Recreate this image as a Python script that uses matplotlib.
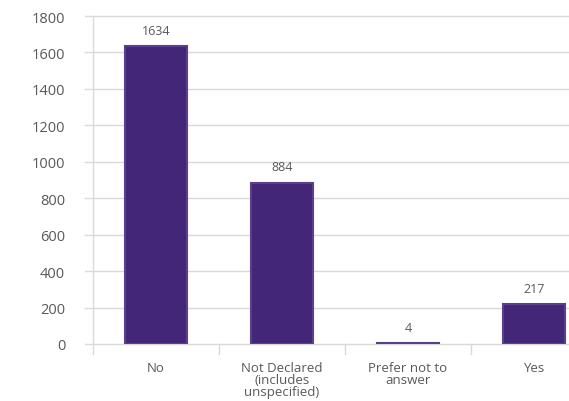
import matplotlib
matplotlib.use("Agg")
import matplotlib.pyplot as plt

categories = ["No", "Not Declared\n(includes\nunspecified)", "Prefer not to\nanswer", "Yes"]
values = [1634, 884, 4, 217]
y_ticks = [0, 200, 400, 600, 800, 1000, 1200, 1400, 1600, 1800]

plt.rcParams["font.family"] = ["Open Sans", "DejaVu Sans"]
text_color = "#595959"
grid_color = "#d9d9d9"
bar_color = "#432678"

W, H = 569, 402
fig = plt.figure(figsize=(W / 100, H / 100), dpi=100)
left, right, bottom, top = 93, 569, 345, 17
ax = fig.add_axes([left / W, 1 - bottom / H, (right - left) / W, (bottom - top) / H])

x = list(range(len(categories)))
ax.bar(x, values, width=0.49, color=bar_color, edgecolor="#5a3f8e", linewidth=1.5, zorder=3)

ax.set_xlim(-0.5, -0.5 + (right - left) / 126)
ax.set_ylim(0, 1800)

# horizontal gridlines extend slightly left of the value axis
ext = 8 / (right - left)
for t in y_ticks:
    ax.axhline(t, xmin=-ext, xmax=1, color=grid_color, linewidth=1, clip_on=False, zorder=1)

for s in ax.spines.values():
    s.set_visible(False)
# value axis line, extending below zero
ax.plot([-0.5, -0.5], [-55, 1800], color=grid_color, linewidth=1, clip_on=False, zorder=1)
# category separators
for b in [0.5, 1.5, 2.5]:
    ax.plot([b, b], [-55, 0], color=grid_color, linewidth=1, clip_on=False, zorder=1)

ax.set_yticks(y_ticks)
ax.set_yticklabels([str(t) for t in y_ticks], fontsize=10.5, color=text_color)
ax.tick_params(axis="y", length=0, pad=20)
ax.set_xticks(x)
ax.set_xticklabels(categories, fontsize=9.5, color=text_color, linespacing=0.9)
ax.tick_params(axis="x", length=0, pad=12)

for xi, v in zip(x, values):
    ax.annotate(str(v), (xi, v), xytext=(0, 7), textcoords="offset points",
                ha="center", va="bottom", fontsize=9, color=text_color)

fig.savefig("out.png", dpi=100)
